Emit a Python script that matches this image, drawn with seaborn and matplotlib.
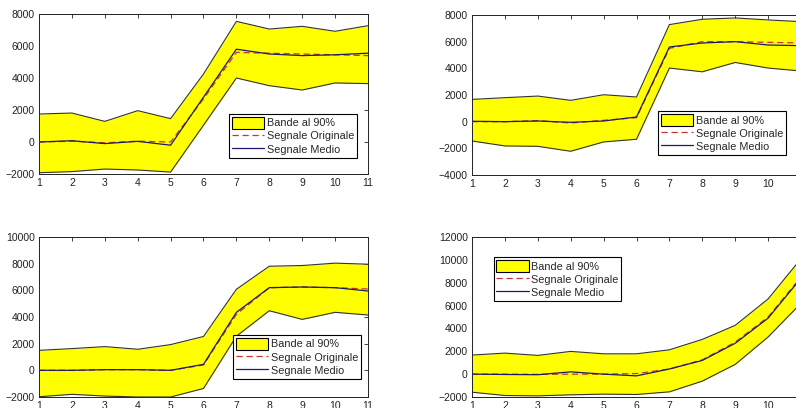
#! python3

# Import Libraries
import numpy as np
import matplotlib
matplotlib.use("Agg")
import matplotlib.pyplot as plt
import matplotlib.patches as patches
from matplotlib.lines import Line2D
import seaborn as sns

# Data (x = campioni 1..11)
x = list(range(1, 12))

upper_1 = [1750, 1810, 1290, 1960, 1460, 4250, 7540, 7060, 7230, 6920, 7270]
lower_1 = [-1920, -1850, -1690, -1750, -1880, 1050, 4000, 3520, 3250, 3690, 3650]
orig_1 = [0, 50, -50, 50, 0, 2700, 5600, 5550, 5500, 5450, 5400]
mean_1 = [0, 80, -100, 40, -200, 2800, 5800, 5500, 5400, 5450, 5550]

upper_2 = [1670, 1800, 1920, 1600, 2020, 1850, 7280, 7680, 7780, 7630, 7500]
lower_2 = [-1450, -1820, -1850, -2220, -1520, -1320, 4020, 3740, 4440, 4020, 3800]
orig_2 = [0, 0, 80, -100, 100, 300, 5500, 6000, 6000, 5950, 5900]
mean_2 = [30, 0, 50, -50, 50, 350, 5600, 5900, 6000, 5750, 5700]

upper_3 = [1500, 1630, 1780, 1580, 1930, 2540, 6080, 7810, 7860, 8040, 7960]
lower_3 = [-1980, -1800, -1930, -2000, -2000, -1360, 2560, 4470, 3820, 4350, 4150]
orig_3 = [0, 0, 50, 50, 0, 400, 4200, 6200, 6250, 6200, 6100]
mean_3 = [0, 0, 50, 50, 0, 450, 4350, 6200, 6250, 6200, 5950]

upper_4 = [1670, 1840, 1640, 1990, 1780, 1780, 2130, 3040, 4270, 6580, 10100]
lower_4 = [-1580, -1870, -1900, -1810, -1750, -1780, -1550, -610, 850, 3250, 6200]
orig_4 = [0, 0, -20, 0, 0, 50, 450, 1250, 2800, 5000, 8500]
mean_4 = [0, -30, -50, 200, 0, -150, 450, 1200, 2700, 4900, 8400]

yticks_1 = list(range(-2000, 8001, 2000))
yticks_2 = list(range(-4000, 8001, 2000))
yticks_3 = list(range(-2000, 10001, 2000))
yticks_4 = list(range(-2000, 12001, 2000))

labels = ["Bande al 90%", "Segnale Originale", "Segnale Medio"]

# Style
sns.set_style("white")
plt.rcParams['font.family'] = ['Liberation Sans', 'DejaVu Sans']

fig = plt.figure(figsize=(7.96, 4.08), dpi=100)

W = 329 / 796
H = 160 / 408
panels = [
    # (left, bottom, upper, lower, orig, mean, yticks, legend loc, anchor)
    (39 / 796, 1 - 174 / 408, upper_1, lower_1, orig_1, mean_1, yticks_1, "lower right", (0.982, 0.069)),
    (472 / 796, 1 - 175 / 408, upper_2, lower_2, orig_2, mean_2, yticks_2, "lower right", (0.970, 0.093)),
    (39 / 796, 1 - 397 / 408, upper_3, lower_3, orig_3, mean_3, yticks_3, "lower right", (0.994, 0.081)),
    (472 / 796, 1 - 397 / 408, upper_4, lower_4, orig_4, mean_4, yticks_4, "upper left", (0.049, 0.906)),
]

for left, bottom, up, lo, orig, mean, yt, loc, anchor in panels:
    ax = fig.add_axes([left, bottom, W, H])

    # Band
    ax.fill_between(x, lo, up, color="#FFFF00", linewidth=0, zorder=1)
    sns.lineplot(x=x, y=up, ax=ax, color="#333333", linewidth=0.8, zorder=2)
    sns.lineplot(x=x, y=lo, ax=ax, color="#333333", linewidth=0.8, zorder=2)

    # Signals
    sns.lineplot(x=x, y=orig, ax=ax, color="#CC3333", linewidth=0.9, linestyle=(0, (5, 3)), zorder=3)
    sns.lineplot(x=x, y=mean, ax=ax, color="#1A1A6E", linewidth=0.9, zorder=4)

    # Decoration
    ax.set_xlim(1, 11)
    ax.set_ylim(yt[0], yt[-1])
    ax.set_xticks(x)
    ax.set_yticks(yt)
    ax.tick_params(direction="in", length=3, width=0.6, colors="#222222",
                   labelsize=7.5, top=True, right=True, pad=3)
    for s in ax.spines.values():
        s.set_color("#222222")
        s.set_linewidth(0.7)

    handles = [
        patches.Patch(facecolor="#FFFF00", edgecolor="black", linewidth=0.8),
        Line2D([], [], color="#CC3333", linestyle=(0, (5, 3)), linewidth=0.9),
        Line2D([], [], color="#1A1A6E", linewidth=0.9),
    ]
    leg = ax.legend(handles, labels, loc=loc, bbox_to_anchor=anchor, fontsize=7.8,
                    fancybox=False, framealpha=1, edgecolor="black",
                    handlelength=3.0, handleheight=1.3, labelspacing=0.12,
                    borderpad=0.25, handletextpad=0.2)
    leg.get_frame().set_linewidth(0.8)

# Save Plot
fig.savefig("out.png", dpi=100)
